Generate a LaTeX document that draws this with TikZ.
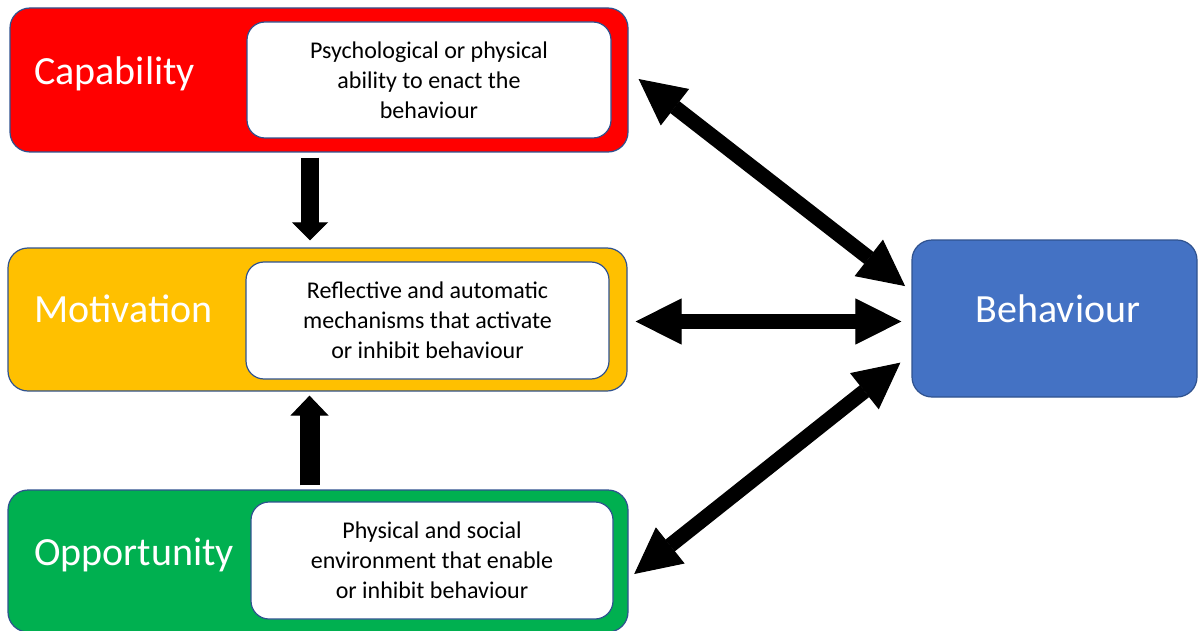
\documentclass[tikz,border=0pt]{standalone}
\usepackage{fontspec}
\setmainfont{Carlito}
\usetikzlibrary{arrows.meta,calc}
\definecolor{capred}{HTML}{FF0000}
\definecolor{motyellow}{HTML}{FFC000}
\definecolor{oppgreen}{HTML}{00B050}
\definecolor{behblue}{HTML}{4472C4}
\definecolor{edgeblue}{HTML}{2F528F}

\begin{document}
\begin{tikzpicture}[x=1pt,y=-1pt,
  panel/.style={draw=edgeblue, line width=1.2pt, rounded corners=20pt, inner sep=0pt},
  descbox/.style={draw=edgeblue, line width=1.2pt, fill=white, rounded corners=18pt,
    inner sep=0pt, align=center, text=black, font=\fontsize{24}{30}\selectfont},
  comptitle/.style={text=white, inner sep=0pt, font=\fontsize{40}{48}\selectfont},
  twoway/.style={line width=15pt,
    {Triangle[length=46pt,width=46pt,line width=1pt]}-{Triangle[length=46pt,width=46pt,line width=1pt]}},
  downarrow/.style={line width=18pt, -{Triangle[length=18pt,width=36pt,line width=1pt]}},
  uparrow/.style={line width=20pt, -{Triangle[length=20pt,width=38pt,line width=1pt]}}
]
\useasboundingbox (0,0) rectangle (1198,631);

% COM-B components
\node[panel, fill=capred, minimum width=618pt, minimum height=144pt] (cap) at (319,80) {};
\node[descbox, minimum width=364pt, minimum height=116pt] (capd) at (429,80)
  {Psychological or physical\\ability to enact the\\behaviour};
\node[comptitle, anchor=base west] (capt) at (34,85) {Capability};

\node[panel, fill=motyellow, minimum width=619pt, minimum height=143pt] (mot) at (317.5,319.5) {};
\node[descbox, minimum width=363pt, minimum height=117pt] (motd) at (427.5,320.5)
  {Reflective and automatic\\mechanisms that activate\\or inhibit behaviour};
\node[comptitle, anchor=base west] (mott) at (34,322) {Motivation};

\node[panel, fill=oppgreen, minimum width=620pt, minimum height=142pt] (opp) at (318,561) {};
\node[descbox, minimum width=362pt, minimum height=117pt] (oppd) at (432,560.5)
  {Physical and social\\environment that enable\\or inhibit behaviour};
\node[comptitle, anchor=base west] (oppt) at (34,565) {Opportunity};

\node[panel, fill=behblue, minimum width=285pt, minimum height=157pt] (beh) at (1054.5,318.5) {};
\node[comptitle, anchor=base] (beht) at (1058,322) {Behaviour};

% influences between components
\draw[downarrow] ($(cap.south)+(-9,5)$) -- ($(mot.north)+(-7.5,-7)$);
\draw[uparrow] ($(opp.north)+(-8.5,-4)$) -- ($(mot.south)+(-8,4)$);

% two-way links with behaviour
\draw[twoway] ($(cap.east)+(10,-1)$) -- ($(beh.north west)+(-6.3,46.7)$);
\draw[twoway] ($(mot.east)+(8,2)$) -- ($(beh.west)+(-10,3)$);
\draw[twoway] ($(opp.east)+(5.6,13)$) -- ($(beh.south west)+(-11,-35)$);
\end{tikzpicture}
\end{document}
